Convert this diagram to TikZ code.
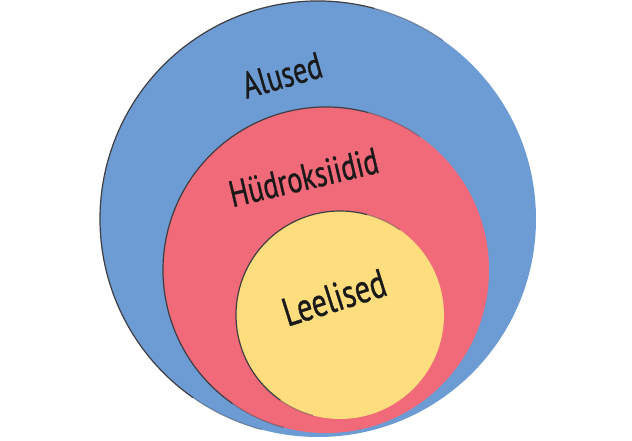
\documentclass[tikz,border=0pt]{standalone}
\usepackage{fontspec}
\setmainfont[FakeStretch=0.76, FakeBold=0.8]{PT Sans}
\usepackage{tikz}
\definecolor{aluseblue}{RGB}{109,155,211}
\definecolor{hydrored}{RGB}{240,106,121}
\definecolor{leeliyellow}{RGB}{253,221,125}
\definecolor{rimgray}{RGB}{62,62,66}
\newcommand{\labelsize}{\fontsize{37}{40}\selectfont}
\tikzstyle{ring}=[
  circle,
  inner sep=0pt,
  outer sep=0pt
]
\tikzstyle{rim}=[
  draw=rimgray,
  line width=1.2pt
]
\tikzstyle{tag}=[
  anchor=base,
  inner sep=0pt,
  text=black!90,
  font=\labelsize
]

\begin{document}
\begin{tikzpicture}[x=1pt, y=1pt]
  \useasboundingbox (0,0) rectangle (632,440);

  \node[ring, fill=aluseblue,   minimum size=436pt] (alused) at (318,221) {};
  \node[ring, fill=hydrored,    minimum size=326pt] (hydro)  at (326,170) {};
  \node[ring, fill=leeliyellow, minimum size=208pt] (leeli)  at (340,125) {};

  \draw[rim] (alused.75) arc[start angle=75, end angle=235, radius=218pt];
  \draw[rim, opacity=0.4] (alused.55) arc[start angle=55, end angle=75, radius=218pt];
  \draw[rim, opacity=0.4] (alused.235) arc[start angle=235, end angle=255, radius=218pt];
  \draw[rim] (hydro.75) arc[start angle=75, end angle=235, radius=163pt];
  \draw[rim, opacity=0.4] (hydro.55) arc[start angle=55, end angle=75, radius=163pt];
  \draw[rim, opacity=0.4] (hydro.235) arc[start angle=235, end angle=255, radius=163pt];
  \draw[rim] (leeli.75) arc[start angle=75, end angle=235, radius=104pt];
  \draw[rim, opacity=0.4] (leeli.55) arc[start angle=55, end angle=75, radius=104pt];
  \draw[rim, opacity=0.4] (leeli.235) arc[start angle=235, end angle=255, radius=104pt];

  \node[tag, rotate=16]   (alusedtext) at (285.5,352.4) {Alused};
  \node[tag, rotate=13.3] (hydrotext)  at (306.6,250.2) {Hüdroksiidid};
  \node[tag, rotate=17.5, font=\fontsize{40}{43}\selectfont] (leelitext) at (338.3,129.2) {Leelised};
\end{tikzpicture}
\end{document}
